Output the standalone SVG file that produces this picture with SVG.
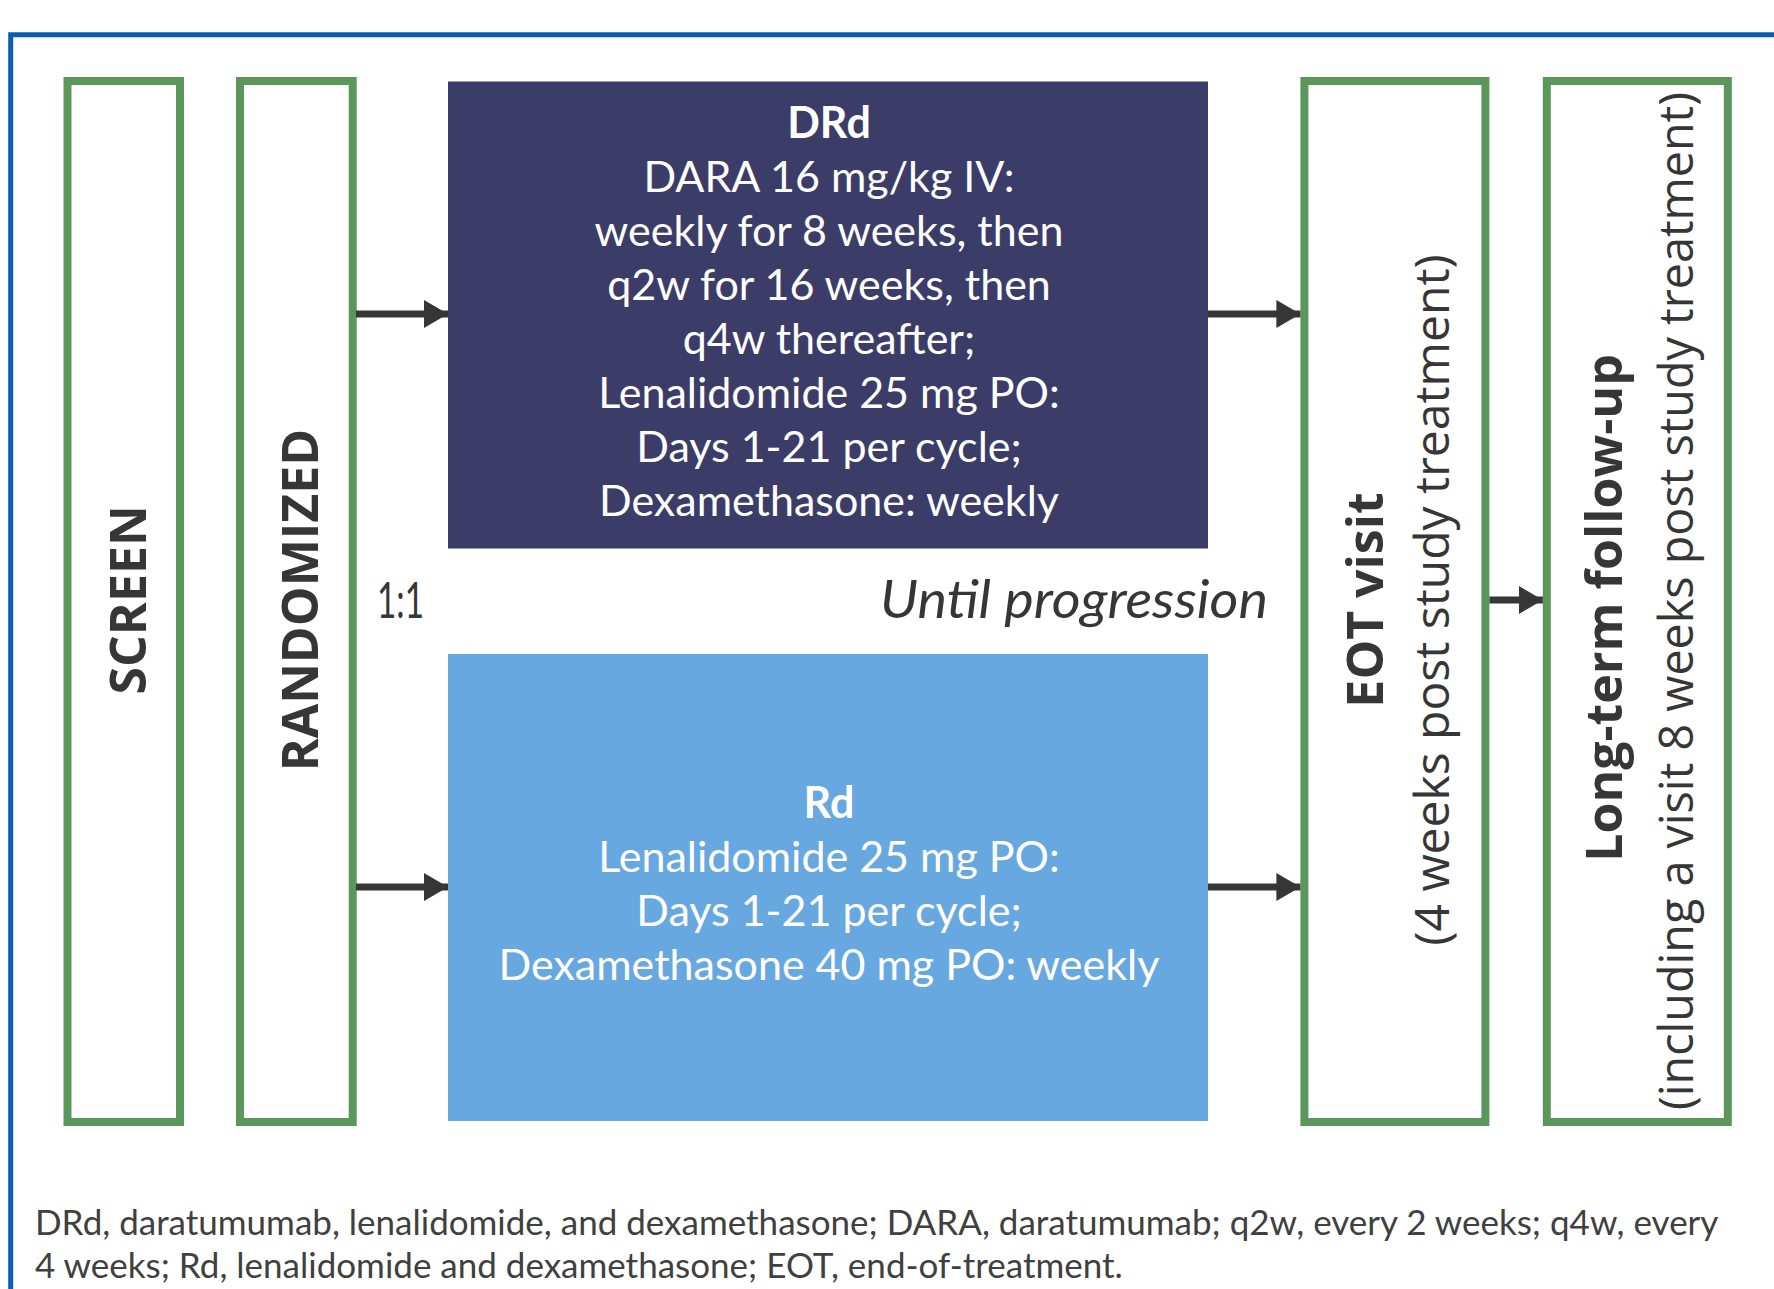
<svg xmlns="http://www.w3.org/2000/svg" width="1774" height="1289" viewBox="0 0 1774 1289">
  <style>
    .stage { fill: #ffffff; stroke: #5b975a; stroke-width: 8; }
    .arm-text { font-family: Lato, "Open Sans", sans-serif; font-size: 43px; fill: #ffffff; text-anchor: middle; }
    .arm-title { font-weight: bold; }
    .vlabel { font-family: "Open Sans", "Liberation Sans", sans-serif; fill: #363636; text-anchor: middle; }
    .vbold { font-weight: bold; font-size: 50px; }
    .vreg { font-size: 48px; }
    .vreg.long { font-size: 46.7px; }
    .note { font-family: Lato, "Open Sans", sans-serif; fill: #363636; }
    .foot { font-family: Lato, "Open Sans", sans-serif; font-size: 35px; fill: #404040; }
    .conn { stroke: #363636; stroke-width: 7; fill: none; marker-end: url(#head); }
  </style>
  <defs>
    <marker id="head" markerUnits="userSpaceOnUse" markerWidth="24" markerHeight="28" refX="24" refY="14" orient="auto">
      <path d="M0,0 L24,14 L0,28 Z" fill="#363636"/>
    </marker>
  </defs>

  <rect width="1774" height="1289" fill="#ffffff"/>

  <!-- outer frame: top and left rules -->
  <path d="M10.7,1289 V34.7 H1774" fill="none" stroke="#0b5fb3" stroke-width="5"/>

  <g id="screen">
    <rect class="stage" x="67.5" y="81" width="112.5" height="1041"/>
    <text class="vlabel vbold" transform="translate(146,600) rotate(-90)">SCREEN</text>
  </g>

  <g id="randomized">
    <rect class="stage" x="240" y="81" width="112.7" height="1041"/>
    <text class="vlabel vbold" transform="translate(318,600) rotate(-90)">RANDOMIZED</text>
  </g>

  <g id="arm-drd">
    <rect x="448" y="81.5" width="760" height="467" fill="#3c3c69"/>
    <text class="arm-text arm-title" x="829" y="138">DRd</text>
    <text class="arm-text" x="829" y="192">DARA 16 mg/kg IV:</text>
    <text class="arm-text" x="829" y="246">weekly for 8 weeks, then</text>
    <text class="arm-text" x="829" y="300">q2w for 16 weeks, then</text>
    <text class="arm-text" x="829" y="354">q4w thereafter;</text>
    <text class="arm-text" x="829" y="408">Lenalidomide 25 mg PO:</text>
    <text class="arm-text" x="829" y="462">Days 1-21 per cycle;</text>
    <text class="arm-text" x="829" y="516">Dexamethasone: weekly</text>
  </g>

  <g id="arm-rd">
    <rect x="448" y="654" width="760" height="467" fill="#68a8e0"/>
    <text class="arm-text arm-title" x="829" y="818">Rd</text>
    <text class="arm-text" x="829" y="872">Lenalidomide 25 mg PO:</text>
    <text class="arm-text" x="829" y="926">Days 1-21 per cycle;</text>
    <text class="arm-text" x="829" y="980">Dexamethasone 40 mg PO: weekly</text>
  </g>

  <g id="eot">
    <rect class="stage" x="1304.4" y="81" width="181" height="1041"/>
    <text class="vlabel vbold" transform="translate(1383,600) rotate(-90)">EOT visit</text>
    <text class="vlabel vreg" transform="translate(1449,600) rotate(-90)">(4 weeks post study treatment)</text>
  </g>

  <g id="follow-up">
    <rect class="stage" x="1546.8" y="81" width="181" height="1041"/>
    <text class="vlabel vbold" transform="translate(1622,608) rotate(-90)">Long-term follow-up</text>
    <text class="vlabel vreg long" transform="translate(1693,601) rotate(-90)">(including a visit 8 weeks post study treatment)</text>
  </g>

  <g id="ratio">
    <text class="note" x="377" y="618" font-size="50" textLength="47" lengthAdjust="spacingAndGlyphs">1:1</text>
  </g>
  <g id="duration">
    <text class="note" x="880" y="618" font-size="52" font-style="italic" textLength="388" lengthAdjust="spacingAndGlyphs">Until progression</text>
  </g>

  <g id="connectors">
    <line class="conn" x1="356" y1="314" x2="448" y2="314"/>
    <line class="conn" x1="356" y1="887" x2="448" y2="887"/>
    <line class="conn" x1="1208" y1="314" x2="1300.4" y2="314"/>
    <line class="conn" x1="1208" y1="887" x2="1300.4" y2="887"/>
    <line class="conn" x1="1489.4" y1="600" x2="1542.8" y2="600"/>
  </g>

  <g id="footnote">
    <text class="foot" x="35" y="1235">DRd, daratumumab, lenalidomide, and dexamethasone; DARA, daratumumab; q2w, every 2 weeks; q4w, every</text>
    <text class="foot" x="35" y="1278">4 weeks; Rd, lenalidomide and dexamethasone; EOT, end-of-treatment.</text>
  </g>
</svg>
